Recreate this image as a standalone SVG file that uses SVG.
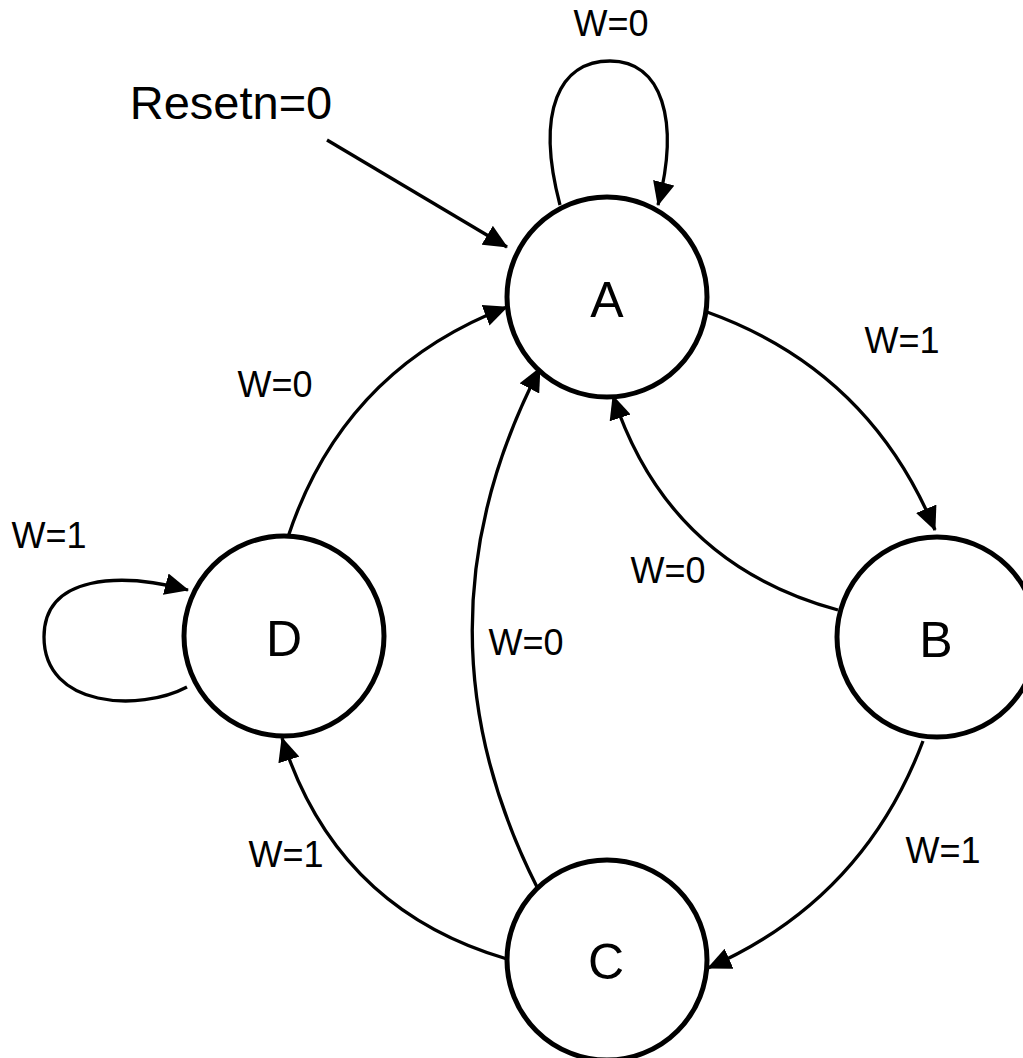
<svg xmlns="http://www.w3.org/2000/svg" width="1023" height="1058" viewBox="0 0 1023 1058">
<style>
.node{fill:#fff;stroke:#000;stroke-width:5}
.edge{fill:none;stroke:#000;stroke-width:3.3;marker-end:url(#arr)}
.nl{font-family:"Liberation Sans",Arial,sans-serif;font-size:50px;text-anchor:middle;fill:#000}
.el{font-family:"Liberation Sans",Arial,sans-serif;font-size:36px;text-anchor:middle;fill:#000}
.rl{font-family:"Liberation Sans",Arial,sans-serif;font-size:47px;text-anchor:middle;fill:#000}
</style>
<defs>
<marker id="arr" viewBox="0 0 24 22" refX="23" refY="11" markerWidth="24" markerHeight="22" orient="auto" markerUnits="userSpaceOnUse">
<path d="M0,0 L24,11 L0,22 z" fill="#000"/>
</marker>
</defs>
<rect width="1023" height="1058" fill="#fff"/>
<g id="connectors">
<path class="edge" d="M327,140 L507,247"/>
<path class="edge" d="M560,205 C535,110 560,61 610,61 C662,61 680,120 658,205"/>
<path class="edge" d="M707,312 Q869,370 935,530"/>
<path class="edge" d="M838,610 Q668,564 613,396"/>
<path class="edge" d="M923,741 Q863,900 708,968"/>
<path class="edge" d="M537,887 Q406,627 540,368"/>
<path class="edge" d="M507,959 Q336,909 282,738"/>
<path class="edge" d="M288,537 Q343,370 507,307"/>
<path class="edge" d="M187,687 C140,712 44,708 44,637 C44,575 120,572 188,590"/>
</g>
<g id="node-A"><circle class="node" cx="607" cy="297" r="100"/><text class="nl" x="607" y="317">A</text></g>
<g id="node-B"><circle class="node" cx="937" cy="637" r="100"/><text class="nl" x="936" y="657">B</text></g>
<g id="node-C"><circle class="node" cx="607" cy="960" r="100"/><text class="nl" x="606" y="979">C</text></g>
<g id="node-D"><circle class="node" cx="284" cy="636" r="100"/><text class="nl" x="284" y="656">D</text></g>
<g id="labels">
<text class="rl" x="231" y="119">Resetn=0</text>
<text class="el" x="611" y="36">W=0</text>
<text class="el" x="902" y="353">W=1</text>
<text class="el" x="275" y="397">W=0</text>
<text class="el" x="49" y="548">W=1</text>
<text class="el" x="668" y="583">W=0</text>
<text class="el" x="526" y="655">W=0</text>
<text class="el" x="286" y="867">W=1</text>
<text class="el" x="943" y="863">W=1</text>
</g>
</svg>
